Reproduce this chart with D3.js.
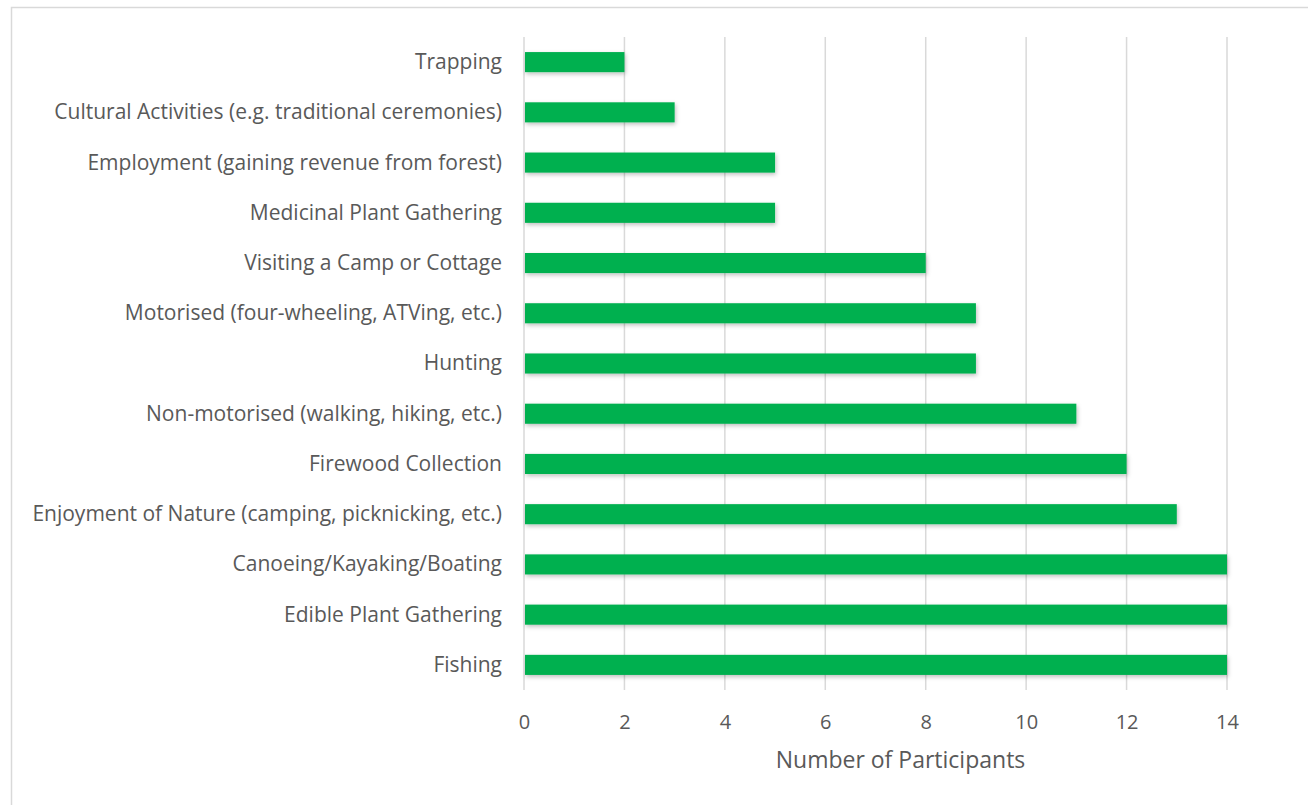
<!DOCTYPE html>
<html>
<head>
<meta charset="utf-8">
<script src="https://cdn.jsdelivr.net/npm/d3@7"></script>
<style>
  body { margin: 0; background: #fff; }
  text { font-family: "Open Sans", sans-serif; fill: #595959; }
</style>
</head>
<body>
<svg id="chart"></svg>
<script>
//define constants
const svgWidth = 1308;
const svgHeight = 805;
const margin = {top: 37, right: 81, bottom: 115, left: 524};

//define data (top to bottom)
const categories = [
  'Trapping',
  'Cultural Activities (e.g. traditional ceremonies)',
  'Employment (gaining revenue from forest)',
  'Medicinal Plant Gathering',
  'Visiting a Camp or Cottage',
  'Motorised (four-wheeling, ATVing, etc.)',
  'Hunting',
  'Non-motorised (walking, hiking, etc.)',
  'Firewood Collection',
  'Enjoyment of Nature (camping, picknicking, etc.)',
  'Canoeing/Kayaking/Boating',
  'Edible Plant Gathering',
  'Fishing'
];
const participants = [2, 3, 5, 5, 8, 9, 9, 11, 12, 13, 14, 14, 14];
const xTicks = [0, 2, 4, 6, 8, 10, 12, 14];

var data = categories.map((c, i) => ({name: c, value: participants[i]}));

//configure svg window
var svg = d3.select('#chart')
  .attr('width', svgWidth)
  .attr('height', svgHeight);

//outer border
svg.append('rect')
  .attr('x', 11.5)
  .attr('y', 7.5)
  .attr('width', svgWidth)
  .attr('height', svgHeight)
  .attr('fill', 'none')
  .attr('stroke', '#d9d9d9')
  .attr('stroke-width', 1.5);

//shadow filter for bars
var defs = svg.append('defs');
var filter = defs.append('filter')
  .attr('id', 'shadow')
  .attr('x', '-5%').attr('y', '-30%')
  .attr('width', '110%').attr('height', '180%');
filter.append('feDropShadow')
  .attr('dx', 1).attr('dy', 2)
  .attr('stdDeviation', 2)
  .attr('flood-color', '#000')
  .attr('flood-opacity', 0.25);

//scales
var xScale = d3.scaleLinear()
  .domain([0, 14])
  .range([margin.left, svgWidth - margin.right]);

var yScale = d3.scaleBand()
  .domain(categories)
  .range([margin.top, svgHeight - margin.bottom])
  .paddingInner(0.6)
  .paddingOuter(0.3);

//gridlines
svg.append('g')
  .selectAll('line')
  .data(xTicks)
  .enter()
  .append('line')
    .attr('x1', d => xScale(d))
    .attr('x2', d => xScale(d))
    .attr('y1', margin.top)
    .attr('y2', svgHeight - margin.bottom)
    .attr('stroke', '#d9d9d9')
    .attr('stroke-width', 1.5);

//bars
svg.append('g')
  .selectAll('rect')
  .data(data)
  .enter()
  .append('rect')
    .attr('x', xScale(0) + 1)
    .attr('y', d => yScale(d.name))
    .attr('width', d => xScale(d.value) - xScale(0) - 1)
    .attr('height', yScale.bandwidth())
    .attr('fill', '#00b050')
    .attr('filter', 'url(#shadow)');

//x axis
var xAxis = d3.axisBottom(xScale)
  .tickValues(xTicks)
  .tickSize(0)
  .tickPadding(0);
var gx = svg.append('g')
  .attr('transform', `translate(0, ${svgHeight - margin.bottom + 39})`)
  .call(xAxis);
gx.select('.domain').remove();
gx.selectAll('text')
  .attr('dy', 0)
  .style('font-size', '20px')
  .style('font-family', '"Open Sans", sans-serif')
  .attr('fill', '#595959');

//y axis
var yAxis = d3.axisLeft(yScale)
  .tickSize(0)
  .tickPadding(22);
var gy = svg.append('g')
  .attr('transform', `translate(${margin.left}, 0)`)
  .call(yAxis);
gy.select('.domain').remove();
gy.selectAll('text')
  .attr('dy', '0.33em')
  .style('font-size', '21px')
  .style('font-family', '"Open Sans", sans-serif')
  .attr('fill', '#595959');

//axis title
svg.append('text')
  .text('Number of Participants')
  .attr('x', (xScale(0) + xScale(14)) / 2 + 25)
  .attr('y', 768)
  .attr('text-anchor', 'middle')
  .style('font-size', '23px');
</script>
</body>
</html>
